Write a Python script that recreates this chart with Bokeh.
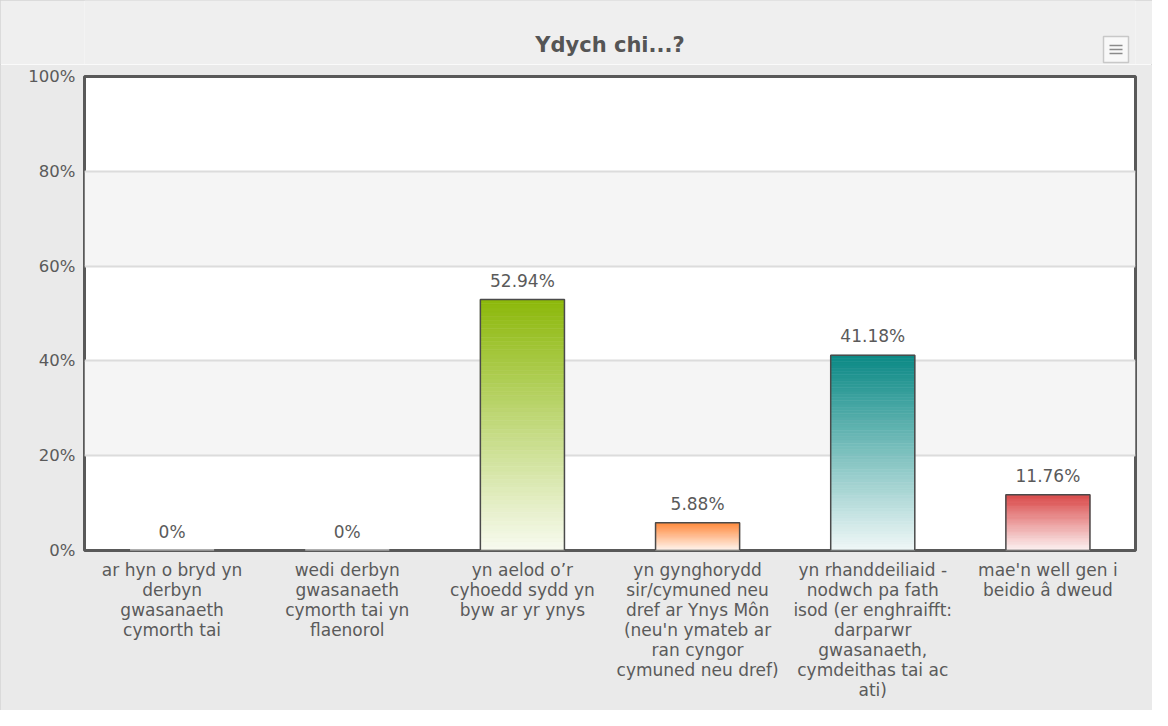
import numpy as np
from bokeh.plotting import figure
from bokeh.layouts import column
from bokeh.models import FactorRange, Range1d, FixedTicker, PrintfTickFormatter
from bokeh.core.properties import value
from bokeh.embed import file_html
from bokeh.resources import INLINE

# ---- data ----
title_text = "Ydych chi...?"
categories = [
    "ar hyn o bryd yn\nderbyn\ngwasanaeth\ncymorth tai",
    "wedi derbyn\ngwasanaeth\ncymorth tai yn\nflaenorol",
    "yn aelod o’r\ncyhoedd sydd yn\nbyw ar yr ynys",
    "yn gynghorydd\nsir/cymuned neu\ndref ar Ynys Môn\n(neu'n ymateb ar\nran cyngor\ncymuned neu dref)",
    "yn rhanddeiliaid -\nnodwch pa fath\nisod (er enghraifft:\ndarparwr\ngwasanaeth,\ncymdeithas tai ac\nati)",
    "mae'n well gen i\nbeidio â dweud",
]
percentages = [0, 0, 52.94, 5.88, 41.18, 11.76]
value_labels = ["0%", "0%", "52.94%", "5.88%", "41.18%", "11.76%"]
bar_colors = ["#b5b5b5", "#b5b5b5", "#8cb80a", "#ff8a3d", "#0a8985", "#d94545"]
y_ticks = [0, 20, 40, 60, 80, 100]

FONT = "DejaVu Sans"
TEXT = "#5a5a5a"
W = 1152
HEAD_H = 64
LEFT, RIGHT = 84, 17
HEAD_BG = "#efefef"

# ---- header strip: title and export-menu icon ----
# (its frame is aligned with the chart's plot area by the column layout)
head = figure(width=W, height=HEAD_H, x_range=Range1d(LEFT, W - RIGHT),
              y_range=Range1d(HEAD_H, 0), x_axis_type=None, y_axis_type=None,
              output_backend="svg", toolbar_location=None, min_border=0,
              min_border_left=LEFT, min_border_right=RIGHT)
head.grid.visible = False
head.outline_line_color = None
head.background_fill_color = HEAD_BG
head.border_fill_color = HEAD_BG
head.text(x=[(LEFT + W - RIGHT) / 2], y=[44], text=[title_text], text_align="center",
          text_baseline="middle", text_font=value(FONT), text_font_size="21px",
          text_font_style="bold", text_color="#555555")
# menu icon box and its three bars
head.rect(x=[1115.5], y=[49], width=25, height=26, fill_color="#f8f8f8",
          line_color="#c8c8c8", line_width=1.5)
head.segment(x0=[1109, 1109, 1109], x1=[1122, 1122, 1122], y0=[45, 49, 53],
             y1=[45, 49, 53], line_color="#8a8a8a", line_width=1.5)

# ---- main chart ----
p = figure(
    width=W, height=710 - HEAD_H,
    x_range=FactorRange(factors=categories),
    y_range=Range1d(0, 100),
    output_backend="svg", toolbar_location=None,
    min_border_left=LEFT, min_border_right=RIGHT,
    min_border_top=12, min_border_bottom=160,
)
p.border_fill_color = "#eaeaea"
p.background_fill_color = "white"
p.outline_line_color = "#595959"
p.outline_line_width = 3

# grid with alternating bands
p.xgrid.grid_line_color = None
p.ygrid.grid_line_color = "#dcdcdc"
p.ygrid.grid_line_width = 2
p.ygrid.band_fill_color = "#f5f5f5"
p.ygrid.band_fill_alpha = 1.0

p.yaxis.ticker = FixedTicker(ticks=y_ticks)
p.yaxis.formatter = PrintfTickFormatter(format="%d%%")
p.yaxis.minor_tick_line_color = None
for ax in (p.xaxis, p.yaxis):
    ax.axis_line_color = None
    ax.major_tick_line_color = None
    ax.major_tick_in = 0
    ax.major_tick_out = 0
    ax.major_label_text_font = FONT
    ax.major_label_text_color = TEXT
p.yaxis.major_label_text_font_size = "16.5px"
p.xaxis.major_label_text_font_size = "17px"
p.yaxis.major_label_standoff = 9
p.xaxis.major_label_standoff = 9
p.xaxis.major_label_text_line_height = 1.0

# gradient-filled bars (from colour at top to near white at bottom)
def rgb(h):
    h = h.lstrip("#")
    return np.array([int(h[i:i + 2], 16) for i in (0, 2, 4)], dtype=float)

N = 60
sx, sb, st, sc = [], [], [], []
for cat, v, c in zip(categories, percentages, bar_colors):
    if v <= 0:
        continue
    top_c = rgb(c)
    for k in range(N):
        t = (k + 0.5) / N
        f = 0.06 + 0.94 * t
        col = (255 * (1 - f) + top_c * f).round().astype(int)
        sx.append(cat)
        sb.append(v * k / N)
        st.append(v * (k + 1) / N)
        sc.append("#%02x%02x%02x" % tuple(col))

p.vbar(x=sx, bottom=sb, top=st, width=0.48, fill_color=sc, line_color=sc, line_width=0.6)

outline_colors = ["#cccccc" if v == 0 else "#4a4a4a" for v in percentages]
outline_widths = [2.5 if v == 0 else 1.5 for v in percentages]
p.vbar(x=categories, bottom=0, top=percentages, width=0.48, fill_color=None,
       line_color=outline_colors, line_width=outline_widths)

p.text(x=categories, y=percentages, text=value_labels, text_align="center",
       text_baseline="bottom", y_offset=-9, text_font=value(FONT),
       text_font_size="17px", text_color=TEXT)

layout = column(head, p, spacing=0)
layout.styles = {"outline": "1px solid #d4d4d4", "outline-offset": "-1px"}

open("out.html", "w").write(file_html(layout, INLINE))
